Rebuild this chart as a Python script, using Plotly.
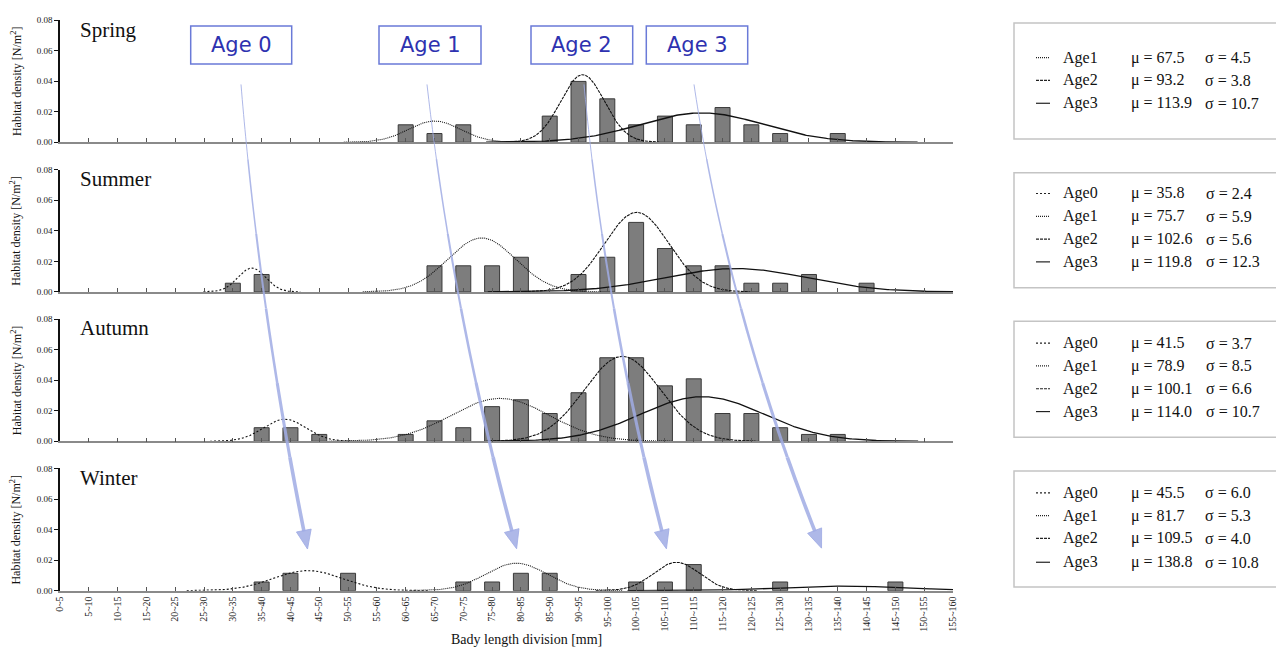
import numpy as np
import plotly.graph_objects as go

# ---------------- data ----------------
CATEGORIES = ["0~5", "5~10", "10~15", "15~20", "20~25", "25~30", "30~35", "35~40",
              "40~45", "45~50", "50~55", "55~60", "60~65", "65~70", "70~75", "75~80",
              "80~85", "85~90", "90~95", "95~100", "100~105", "105~110", "110~115",
              "115~120", "120~125", "125~130", "130~135", "135~140", "140~145",
              "145~150", "150~155", "155~160"]

SEASONS = ["Spring", "Summer", "Autumn", "Winter"]

SPRING_DENSITY = [0, 0, 0, 0, 0, 0, 0, 0, 0, 0, 0, 0,
                  0.0114, 0.0057, 0.0114, 0, 0, 0.0171, 0.0398, 0.0284, 0.0114, 0.0171,
                  0.0114, 0.0227, 0.0114, 0.0057, 0, 0.0057, 0, 0, 0, 0]
SUMMER_DENSITY = [0, 0, 0, 0, 0, 0, 0.0057, 0.0114, 0, 0, 0, 0, 0,
                  0.0171, 0.0171, 0.0171, 0.0227, 0, 0.0114, 0.0227, 0.0455, 0.0284,
                  0.0171, 0.0171, 0.0057, 0.0057, 0.0114, 0, 0.0057, 0, 0, 0]
AUTUMN_DENSITY = [0, 0, 0, 0, 0, 0, 0, 0.0089, 0.0089, 0.0045, 0, 0,
                  0.0045, 0.0134, 0.0089, 0.0227, 0.0272, 0.0182, 0.0318, 0.0547, 0.0547,
                  0.0363, 0.0409, 0.0182, 0.0182, 0.0089, 0.0045, 0.0045, 0, 0, 0, 0]
WINTER_DENSITY = [0, 0, 0, 0, 0, 0, 0, 0.0057, 0.0114, 0, 0.0114, 0, 0, 0,
                  0.0057, 0.0057, 0.0114, 0.0114, 0, 0, 0.0057, 0.0057, 0.0171, 0, 0,
                  0.0057, 0, 0, 0, 0.0057, 0, 0]

# fitted normal components (μ, σ from legends; peak heights)
SPRING_AGES = ["Age1", "Age2", "Age3"]
SPRING_MU = [67.5, 93.2, 113.9]
SPRING_SIGMA = [4.5, 3.8, 10.7]
SPRING_PEAK = [0.0139, 0.0442, 0.0192]

SUMMER_AGES = ["Age0", "Age1", "Age2", "Age3"]
SUMMER_MU = [35.8, 75.7, 102.6, 119.8]
SUMMER_SIGMA = [2.4, 5.9, 5.6, 12.3]
SUMMER_PEAK = [0.0157, 0.0353, 0.0521, 0.0153]

AUTUMN_AGES = ["Age0", "Age1", "Age2", "Age3"]
AUTUMN_MU = [41.5, 78.9, 100.1, 114.0]
AUTUMN_SIGMA = [3.7, 8.5, 6.6, 10.7]
AUTUMN_PEAK = [0.0145, 0.0281, 0.0556, 0.0292]

WINTER_AGES = ["Age0", "Age1", "Age2", "Age3"]
WINTER_MU = [45.5, 81.7, 109.5, 138.8]
WINTER_SIGMA = [6.0, 5.3, 4.0, 10.8]
WINTER_PEAK = [0.0132, 0.0180, 0.0186, 0.0030]

AGE_BOX_LABELS = ["Age 0", "Age 1", "Age 2", "Age 3"]
Y_TICKS = [0.00, 0.02, 0.04, 0.06, 0.08]

# ---------------- layout helpers ----------------
# screen pixels; the page body adds an 8px offset, so the figure is 8px smaller
OFF = 8
SW, SH = 1284, 648
W, H = SW - OFF, SH - OFF
PL, PR, PT, PB = 60, 953, 15, 591  # plot area, screen pixels


def px_x(px):
    return (px - PL) / (PR - PL)


def px_y(py):
    return (PB - py) / (PB - PT)


def clamp(v):
    return min(1.0, max(0.0, v))


bin_mid = [sum(float(v) for v in c.split("~")) / 2 for c in CATEGORIES]
X_RANGE = [bin_mid[0], bin_mid[-1]]

SERIF = "Liberation Serif, Times New Roman, serif"
DASH = {"Age0": "2px,2px", "Age1": "1px,1px", "Age2": "3px,1px", "Age3": "solid"}

panels = [
    (SPRING_DENSITY, SPRING_AGES, SPRING_MU, SPRING_SIGMA, SPRING_PEAK),
    (SUMMER_DENSITY, SUMMER_AGES, SUMMER_MU, SUMMER_SIGMA, SUMMER_PEAK),
    (AUTUMN_DENSITY, AUTUMN_AGES, AUTUMN_MU, AUTUMN_SIGMA, AUTUMN_PEAK),
    (WINTER_DENSITY, WINTER_AGES, WINTER_MU, WINTER_SIGMA, WINTER_PEAK),
]
panel_bottom_px = [138.3, 289.3, 440.0, 590.7]
panel_height_px = 123.3
season_label_y = [25, 175, 326, 477]
legend_box_px = [(18, 135), (169, 285), (319, 436), (470, 587)]
legend_rows_px = [[53, 76, 99], [190, 213, 236, 259], [341, 364, 387, 410], [492, 515, 538, 562]]
sigma_x_px = [1203, 1204, 1204, 1203]

fig = go.Figure()
layout = {}
annotations = []
shapes = []

for i, (dens, ages, mus, sigmas, peaks) in enumerate(panels):
    n = i + 1
    xa = "x" if n == 1 else f"x{n}"
    ya = "y" if n == 1 else f"y{n}"
    fig.add_trace(go.Bar(
        x=bin_mid, y=[v if v else None for v in dens], xaxis=xa, yaxis=ya,
        width=2.6, marker=dict(color="#7d7d7d", line=dict(color="#3a3a3a", width=1)),
        showlegend=False, hoverinfo="skip"))
    for age, mu, sd, pk in zip(ages, mus, sigmas, peaks):
        xs = np.linspace(max(X_RANGE[0], mu - 3.5 * sd), min(X_RANGE[1], mu + 3.5 * sd), 300)
        ys = pk * np.exp(-0.5 * ((xs - mu) / sd) ** 2)
        fig.add_trace(go.Scatter(
            x=xs, y=ys, mode="lines", xaxis=xa, yaxis=ya, showlegend=False,
            hoverinfo="skip",
            line=dict(color="#111111", width=1.3 if age == "Age3" else 1.1, dash=DASH[age])))

    bot = panel_bottom_px[i]
    dom = [clamp(px_y(bot)), clamp(px_y(bot - panel_height_px))]
    xkey = "xaxis" if n == 1 else f"xaxis{n}"
    ykey = "yaxis" if n == 1 else f"yaxis{n}"
    layout[xkey] = dict(
        domain=[0, 1], anchor=ya, range=X_RANGE, showgrid=False, zeroline=False,
        showline=True, linecolor="#8a8a8a", linewidth=1.5,
        ticks="inside", ticklen=4, tickcolor="#555555", tickwidth=1,
        tickvals=bin_mid, ticktext=CATEGORIES, showticklabels=(n == 4),
        tickangle=-90, tickfont=dict(family=SERIF, size=10, color="#222222"))
    layout[ykey] = dict(
        domain=dom, anchor=xa, range=[0, 0.08], showgrid=False, zeroline=False,
        showline=True, linecolor="#111111", linewidth=1.5,
        ticks="outside", ticklen=4, tickcolor="#111111",
        tickvals=Y_TICKS, tickformat=".2f",
        tickfont=dict(family=SERIF, size=9, color="#222222"))

    # y title
    annotations.append(dict(
        x=px_x(16), y=(dom[0] + dom[1]) / 2, xref="paper", yref="paper",
        text="Habitat density [N/m<sup>2</sup>]", textangle=-90, showarrow=False,
        font=dict(family=SERIF, size=12, color="#111111"), xanchor="center", yanchor="middle"))
    # season label
    annotations.append(dict(
        x=px_x(78), y=px_y(season_label_y[i]), xref="paper", yref="paper",
        text=SEASONS[i], showarrow=False, xanchor="left", yanchor="middle",
        font=dict(family=SERIF, size=21, color="#111111")))

    # legend box (its right side runs past the picture edge)
    top_px, bot_px = legend_box_px[i]
    shapes.append(dict(type="rect", xref="paper", yref="paper",
                       x0=px_x(1014), x1=px_x(1295), y0=px_y(bot_px), y1=px_y(top_px),
                       line=dict(color="#c4c4c4", width=1.5), fillcolor="rgba(0,0,0,0)"))
    for age, mu, sd, ry in zip(ages, mus, sigmas, legend_rows_px[i]):
        shapes.append(dict(type="line", xref="paper", yref="paper",
                           x0=px_x(1036), x1=px_x(1050), y0=px_y(ry), y1=px_y(ry),
                           line=dict(color="#222222", width=1.2, dash=DASH[age])))
        annotations.append(dict(x=px_x(1061), y=px_y(ry), xref="paper", yref="paper",
                                text=age, showarrow=False, xanchor="left", yanchor="middle",
                                font=dict(family=SERIF, size=16, color="#111111")))
        annotations.append(dict(x=px_x(1129), y=px_y(ry), xref="paper", yref="paper",
                                text=f"μ = {mu:.1f}", showarrow=False, xanchor="left",
                                yanchor="middle", font=dict(family=SERIF, size=16, color="#111111")))
        annotations.append(dict(x=px_x(sigma_x_px[i]), y=px_y(ry), xref="paper", yref="paper",
                                text=f"σ = {sd:.1f}", showarrow=False, xanchor="left",
                                yanchor="middle", font=dict(family=SERIF, size=16, color="#111111")))

# x-axis title
annotations.append(dict(x=px_x(526), y=px_y(640), xref="paper", yref="paper",
                        text="Bady length division [mm]", showarrow=False,
                        xanchor="center", yanchor="middle",
                        font=dict(family=SERIF, size=14, color="#111111")))

# Age boxes
age_boxes_px = [(190.7, 291.7), (379, 481), (531, 632.7), (646.3, 747.7)]
for label, (bx0, bx1) in zip(AGE_BOX_LABELS, age_boxes_px):
    shapes.append(dict(type="rect", xref="paper", yref="paper",
                       x0=px_x(bx0), x1=px_x(bx1), y0=px_y(59.3), y1=px_y(21),
                       line=dict(color="#6a7ad8", width=1.5), fillcolor="white", layer="above"))
    annotations.append(dict(x=px_x((bx0 + bx1) / 2), y=px_y(40.5), xref="paper", yref="paper",
                            text=label, showarrow=False, xanchor="center", yanchor="middle",
                            font=dict(family="DejaVu Sans, sans-serif", size=21, color="#2e32b0")))

# curved growth arrows (quadratic bezier, tapering)
arrows_px = [((241, 80), (259.5, 306.5), (304, 531)),
             ((427, 80), (452.5, 306.5), (512, 531)),
             ((584, 80), (605, 306.5), (662, 531)),
             ((694, 80), (727.5, 306.5), (815, 531))]
ARROW_COLOR = "rgba(160,172,228,0.85)"
for p0, p1, p2 in arrows_px:
    p0, p1, p2 = np.array(p0, float), np.array(p1, float), np.array(p2, float)
    t = np.linspace(0, 1, 61)
    pts = ((1 - t) ** 2)[:, None] * p0 + (2 * t * (1 - t))[:, None] * p1 + (t ** 2)[:, None] * p2
    nseg = 6
    for s in range(nseg):
        seg = pts[s * 10:(s + 1) * 10 + 1]
        path = "M " + " L ".join(f"{px_x(x):.5f},{px_y(y):.5f}" for x, y in seg)
        shapes.append(dict(type="path", xref="paper", yref="paper", path=path,
                           line=dict(color=ARROW_COLOR, width=1.0 + 2.6 * s / (nseg - 1)),
                           layer="above"))
    tan = p2 - p1
    tan = tan / np.linalg.norm(tan)
    nor = np.array([-tan[1], tan[0]])
    tip = p2 + tan * 18
    base = p2 - tan * 1
    a = base + nor * 7.5
    b = base - nor * 7.5
    path = (f"M {px_x(tip[0]):.5f},{px_y(tip[1]):.5f} L {px_x(a[0]):.5f},{px_y(a[1]):.5f} "
            f"L {px_x(b[0]):.5f},{px_y(b[1]):.5f} Z")
    shapes.append(dict(type="path", xref="paper", yref="paper", path=path,
                       fillcolor=ARROW_COLOR, line=dict(color=ARROW_COLOR, width=1),
                       layer="above"))

fig.update_layout(
    width=W, height=H,
    margin=dict(l=PL - OFF, r=W - (PR - OFF), t=PT - OFF, b=H - (PB - OFF)),
    paper_bgcolor="white", plot_bgcolor="white",
    barmode="overlay", showlegend=False,
    annotations=annotations, shapes=shapes,
    **layout)

fig.write_html("out.html")
